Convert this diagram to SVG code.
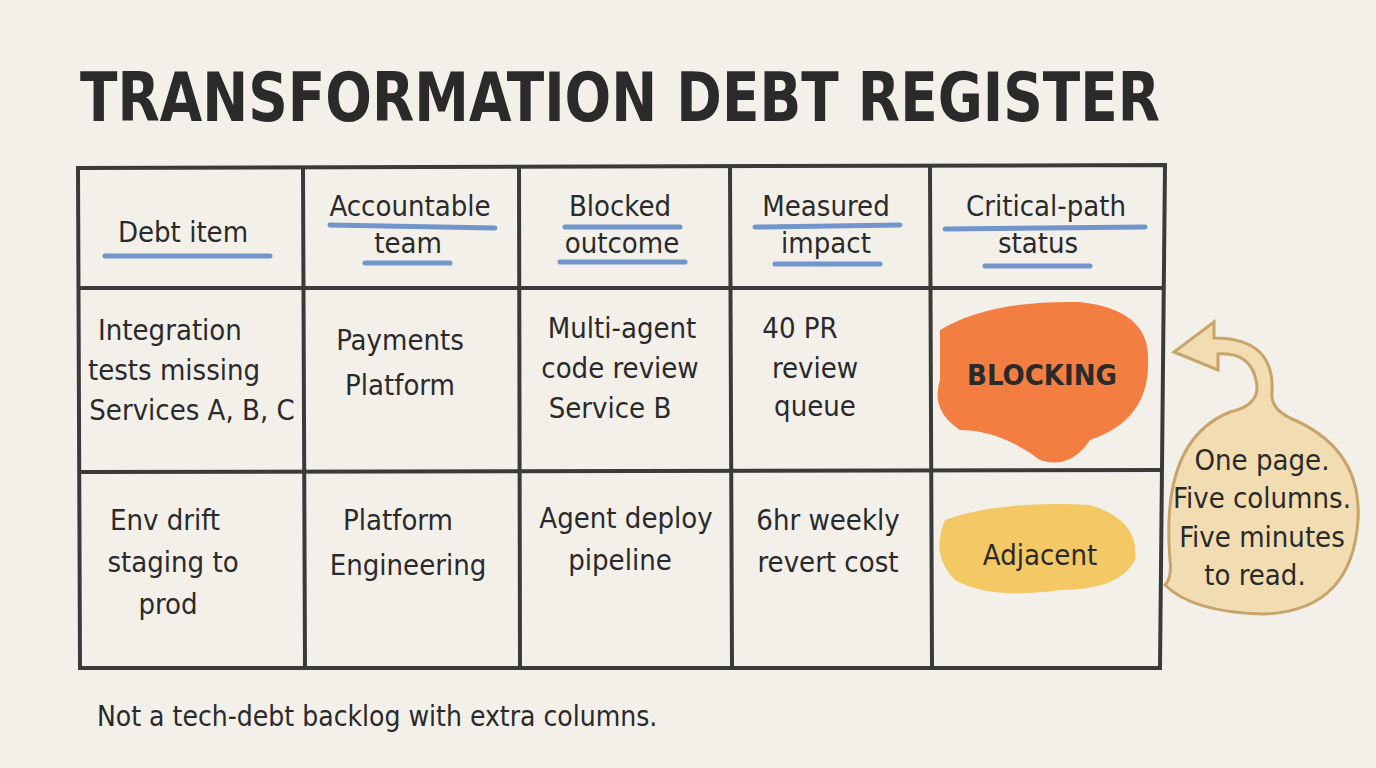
<svg xmlns="http://www.w3.org/2000/svg" width="1376" height="768" viewBox="0 0 1376 768">
<style>
.t{font-family:"DejaVu Sans Condensed","DejaVu Sans",sans-serif;fill:#2a2a2a}
.c{font-size:29px;text-anchor:middle}
.g{stroke:#3a3a3a;stroke-width:4;fill:none;stroke-linecap:round}
.u{stroke:#5b86c6;stroke-width:5;fill:none;stroke-linecap:round;opacity:.85}
</style>
<rect width="1376" height="768" fill="#f3f0ea"/>
<text class="t" x="80" y="121" font-size="68" font-weight="bold" textLength="1080" lengthAdjust="spacingAndGlyphs">TRANSFORMATION DEBT REGISTER</text>
<g id="grid">
<path class="g" d="M78 168 L1165 165 L1160 668 L80 668 Z"/>
<path class="g" d="M303 168 L305 668 M519 167 L520 668 M730 167 L732 668 M930 166 L932 668"/>
<path class="g" d="M79 288 L1162 288 M80 472 L1161 470"/>
</g>
<g id="blobs">
<path d="M940 330 Q990 300 1080 302 Q1150 310 1148 360 Q1150 420 1090 440 Q1070 470 1040 460 Q1000 430 960 430 Q930 410 940 380 Z" fill="#f26a25" opacity=".85"/>
<path d="M945 520 Q1000 500 1090 505 Q1140 520 1135 560 Q1120 590 1060 590 Q990 600 955 580 Q930 555 945 520 Z" fill="#f2c14e" opacity=".85"/>
</g>
<g id="headers">
<text class="t c" x="183" y="242">Debt item</text>
<path class="u" d="M105 256 L270 256"/>
<text class="t c" x="410" y="216">Accountable</text>
<text class="t c" x="408" y="253">team</text>
<path class="u" d="M330 225 L495 228 M365 263 L450 263"/>
<text class="t c" x="620" y="216">Blocked</text>
<text class="t c" x="622" y="253">outcome</text>
<path class="u" d="M565 227 L680 227 M560 262 L685 262"/>
<text class="t c" x="826" y="216">Measured</text>
<text class="t c" x="826" y="253">impact</text>
<path class="u" d="M755 227 L900 225 M775 264 L880 264"/>
<text class="t c" x="1046" y="216">Critical-path</text>
<text class="t c" x="1038" y="253">status</text>
<path class="u" d="M945 229 L1145 227 M985 266 L1090 266"/>
</g>
<g id="row1">
<text class="t c" x="170" y="340">Integration</text>
<text class="t c" x="174" y="380">tests missing</text>
<text class="t c" x="192" y="420">Services A, B, C</text>
<text class="t c" x="400" y="350">Payments</text>
<text class="t c" x="400" y="395">Platform</text>
<text class="t c" x="622" y="338">Multi-agent</text>
<text class="t c" x="620" y="378">code review</text>
<text class="t c" x="610" y="418">Service B</text>
<text class="t c" x="800" y="338">40 PR</text>
<text class="t c" x="815" y="378">review</text>
<text class="t c" x="815" y="416">queue</text>
<text class="t c" x="1042" y="385" font-size="38" font-weight="bold">BLOCKING</text>
</g>
<g id="row2">
<text class="t c" x="165" y="530">Env drift</text>
<text class="t c" x="173" y="572">staging to</text>
<text class="t c" x="168" y="614">prod</text>
<text class="t c" x="398" y="530">Platform</text>
<text class="t c" x="408" y="575">Engineering</text>
<text class="t c" x="626" y="528">Agent deploy</text>
<text class="t c" x="620" y="570">pipeline</text>
<text class="t c" x="828" y="530">6hr weekly</text>
<text class="t c" x="828" y="572">revert cost</text>
<text class="t c" x="1040" y="565" font-size="38">Adjacent</text>
</g>
<g id="note">
<path d="M1230 412 Q1262 405 1256 380 Q1250 352 1218 354 L1218 370 L1174 352 L1214 322 L1214 338 Q1275 338 1272 392 Q1270 408 1290 418 Q1362 448 1358 520 Q1352 612 1262 614 Q1192 612 1165 585 Q1172 578 1170 560 Q1160 440 1230 412 Z" fill="#f2ddb3" stroke="#c9a46a" stroke-width="3"/>
<text class="t c" x="1262" y="470" font-size="26">One page.</text>
<text class="t c" x="1262" y="508" font-size="26">Five columns.</text>
<text class="t c" x="1262" y="547" font-size="26">Five minutes</text>
<text class="t c" x="1255" y="585" font-size="26">to read.</text>
</g>
<text class="t" x="97" y="726" font-size="28">Not a tech-debt backlog with extra columns.</text>
</svg>
